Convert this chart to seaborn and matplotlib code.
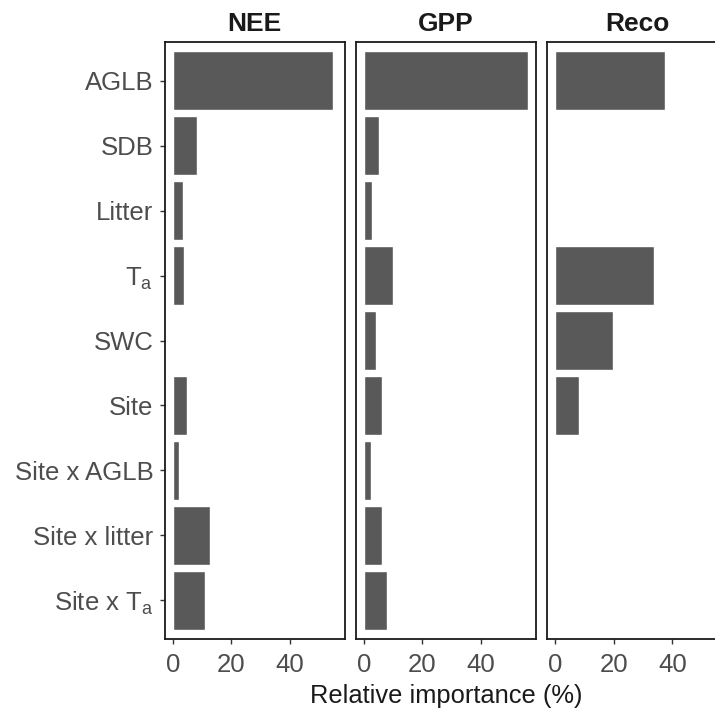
import matplotlib
matplotlib.use("Agg")
import matplotlib.pyplot as plt
import seaborn as sns
import pandas as pd

sns.set_theme(style="white")
plt.rcParams["font.family"] = ["Liberation Sans", "DejaVu Sans"]
plt.rcParams["mathtext.fontset"] = "custom"
plt.rcParams["mathtext.rm"] = "Liberation Sans"

predictors = ["AGLB", "SDB", "Litter", r"T$_{\mathregular{a}}$", "SWC", "Site",
              "Site x AGLB", "Site x litter", r"Site x T$_{\mathregular{a}}$"]
fluxes = ["NEE", "GPP", "Reco"]
nee = [54.9, 8.3, 3.3, 3.9, 0.0, 5.0, 2.2, 12.8, 11.1]
gpp = [56.0, 5.1, 2.9, 10.1, 4.0, 6.2, 2.3, 6.2, 7.8]
reco = [37.4, 0.0, 0.0, 33.6, 19.6, 7.9, 0.0, 0.0, 0.0]
x_ticks = [0, 20, 40]

df = pd.DataFrame({
    "flux": [f for f in fluxes for _ in predictors],
    "predictor": predictors * 3,
    "importance": nee + gpp + reco,
})

W, H = 715, 713
fig = plt.figure(figsize=(W / 100, H / 100), dpi=100)

panel_w = 180 / W
panel_h = (639.3 - 41.7) / H
bottom = (H - 639.3) / H
lefts = [164.7 / W, 355.7 / W, 547.3 / W]

xmax = max(df["importance"])
pad = xmax * 0.05

bar_color = "#595959"
tick_color = "#4d4d4d"

for i, (flux, left) in enumerate(zip(fluxes, lefts)):
    ax = fig.add_axes([left, bottom, panel_w, panel_h])
    sub = df[df["flux"] == flux]
    sns.barplot(data=sub, x="importance", y="predictor", order=predictors,
                orient="h", color=bar_color, width=0.9, ax=ax,
                saturation=1, errorbar=None)
    ax.set_xlim(-pad, xmax + pad)
    ax.set_ylim(len(predictors) - 0.4, -0.6)
    ax.set_xticks(x_ticks)
    ax.set_xticklabels([str(t) for t in x_ticks], fontsize=18.5, color=tick_color)
    ax.set_xlabel("")
    ax.set_ylabel("")
    for s in ax.spines.values():
        s.set_visible(True)
        s.set_color("#1a1a1a")
        s.set_linewidth(1.3)
    ax.tick_params(axis="x", which="both", bottom=True, length=3.6, width=1.0,
                   color="#333333", pad=6)
    if i == 0:
        ax.tick_params(axis="y", left=True, length=3.6, width=1.0,
                       color="#333333", pad=4.5)
        ax.set_yticks(range(len(predictors)))
        ax.set_yticklabels(predictors, fontsize=18.5, color=tick_color)
    else:
        ax.set_yticks([])
    ax.set_title(flux, fontsize=19, fontweight="bold", color="#1a1a1a", pad=8)

fig.text((164.7 + 727.3) / 2 / W, (H - 703) / H, "Relative importance (%)",
         ha="center", va="baseline", fontsize=18.4, color="#1a1a1a")

fig.savefig("out.png", dpi=100)
